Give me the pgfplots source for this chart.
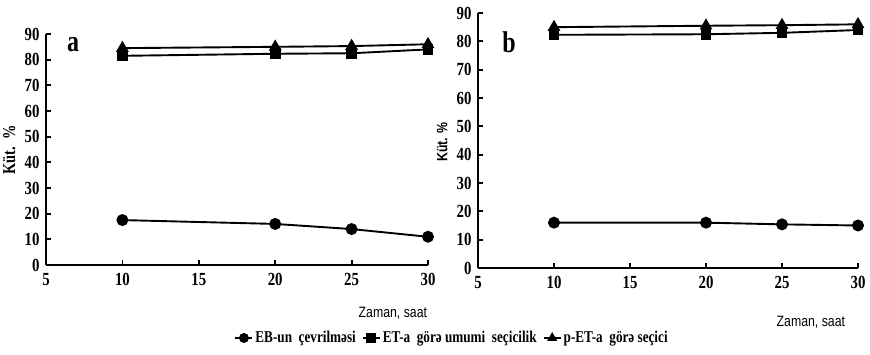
\documentclass[border=0pt]{standalone}
\usepackage{fontspec}
\usepackage{pgfplots}
\pgfplotsset{compat=1.18}
\setmainfont{Liberation Serif}
\newfontfamily\tf{Liberation Serif}[FakeStretch=0.8]
\newfontfamily\sff{Liberation Sans}[FakeStretch=0.82]
\pgfplotsset{
  panel/.style={
    scale only axis,
    axis lines*=left,
    axis line style={line width=2.4pt},
    xmin=5, xmax=30, ymin=0, ymax=90,
    xtick={5,10,...,30}, ytick={0,10,...,90},
    tick align=inside,
    major tick length=5pt,
    tick style={line width=1.8pt,black},
    /pgf/number format/assume math mode=true,
    ticklabel style={font=\tf\bfseries\fontsize{18.5}{18.5}\selectfont},
    xticklabel style={yshift=-5pt},
    yticklabel style={xshift=-3pt},
    clip=false,
  },
  s1/.style={black, line width=1.9pt, mark=*, mark size=5pt},
  s2/.style={black, line width=1.9pt, mark=square*, mark size=4.5pt},
  s3/.style={black, line width=1.9pt, mark=triangle*, mark size=5.5pt},
}
\begin{document}
\begin{tikzpicture}[x=1pt,y=1pt]
\useasboundingbox (0,0) rectangle (870,355);
\begin{axis}[panel,
  at={(46pt,90pt)}, anchor=south west,
  width=382pt, height=231pt,
  xlabel={\sff\fontsize{15}{15}\selectfont Zaman, saat},
  xlabel style={at={(rel axis cs:0.908,-0.208)}, anchor=center},
  ylabel={\tf\bfseries\fontsize{18}{18}\selectfont Küt.\ \ \%},
  ylabel style={at={(rel axis cs:-0.096,0.498)}, anchor=center, rotate=0},
  legend columns=3,
  legend style={at={(rel axis cs:1.063,-0.316)}, anchor=center, draw=none,
    font=\tf\bfseries\fontsize{16.5}{16.5}\selectfont,
    /tikz/every even column/.append style={column sep=4pt}},
  legend image post style={mark size=4pt},
]
\addplot[s1] coordinates {(10,17.5) (20,16) (25,14) (30,11)};
\addlegendentry{EB-un\ \ çevrilməsi}
\addplot[s2] coordinates {(10,81.5) (20,82.3) (25,82.5) (30,84)};
\addlegendentry{ET-a\ \ görə\ umumi\ \ seçicilik}
\addplot[s3] coordinates {(10,84.5) (20,85) (25,85.3) (30,86)};
\addlegendentry{p-ET-a\ \ görə\ seçici}
\node[font=\tf\bfseries\fontsize{30}{30}\selectfont] at (rel axis cs:0.071,0.952) {a};
\end{axis}
\begin{axis}[panel,
  at={(478pt,87pt)}, anchor=south west,
  width=380pt, height=255pt,
  xlabel={\sff\fontsize{15}{15}\selectfont Zaman, saat},
  xlabel style={at={(rel axis cs:0.876,-0.212)}, anchor=center},
  ylabel={\sff\bfseries\fontsize{15}{15}\selectfont Küt. \%},
  ylabel style={at={(rel axis cs:-0.094,0.494)}, anchor=center, rotate=0},
]
\addplot[s1] coordinates {(10,16) (20,16) (25,15.4) (30,15)};
\addplot[s2] coordinates {(10,82.3) (20,82.5) (25,83) (30,84)};
\addplot[s3] coordinates {(10,85) (20,85.5) (25,85.7) (30,86)};
\node[font=\tf\bfseries\fontsize{30}{30}\selectfont] at (rel axis cs:0.082,0.886) {b};
\end{axis}
\end{tikzpicture}
\end{document}
